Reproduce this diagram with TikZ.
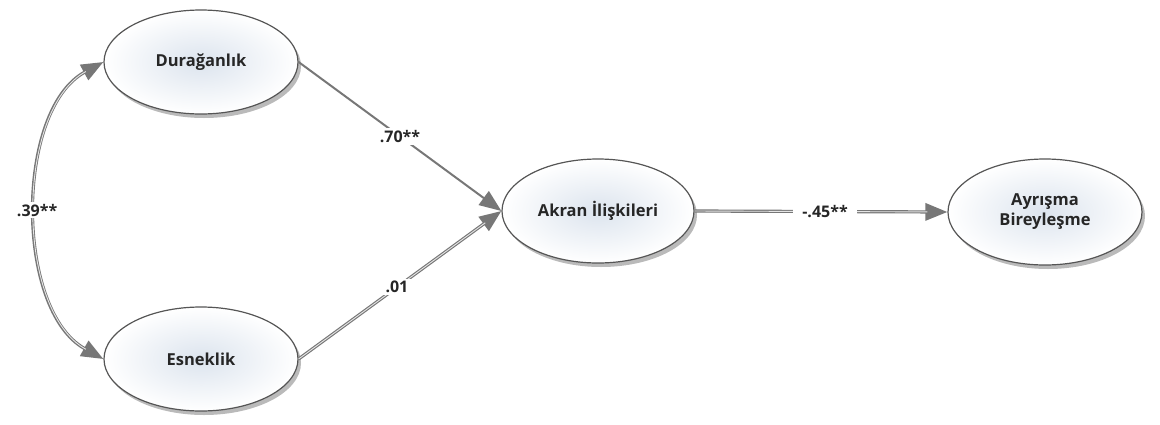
\documentclass[tikz,border=0pt]{standalone}
\usepackage{fontspec}
\setmainfont{Open Sans}
\usetikzlibrary{arrows.meta,shadows,shapes.geometric}
\definecolor{edgegray}{HTML}{777777}
\definecolor{ringgray}{HTML}{555555}
\definecolor{innerblue}{HTML}{DCE4EE}
\begin{document}
\begin{tikzpicture}[x=1pt,y=-1pt,
  var/.style={ellipse, draw=ringgray, line width=1.2pt, minimum width=194pt, minimum height=104pt,
    inner color=innerblue, outer color=white, align=center,
    font=\fontsize{16.5}{20}\selectfont\bfseries, text=black!85,
    drop shadow={shadow xshift=3pt, shadow yshift=-4pt, opacity=0.45, fill=black!60}},
  tip/.style={-{Triangle[length=22pt,width=17pt]}},
  path/.style={draw=edgegray, line width=2pt, tip},
  dpath/.style={draw=edgegray, line width=3.2pt, tip,
    postaction={draw=white!80!gray, line width=0.9pt, shorten >=20pt, -}},
  coef/.style={fill=white, inner xsep=6pt, inner ysep=2pt, font=\fontsize{16}{18}\selectfont\bfseries, text=black!85}]
\useasboundingbox (0,0) rectangle (1160,424);
\node[var] (D) at (201,62) {Durağanlık};
\node[var] (E) at (201,359) {Esneklik};
\node[var, minimum width=192pt] (A) at (598,211) {Akran İlişkileri};
\node[var, minimum height=106pt] (B) at (1045,212) {Ayrışma\\Bireyleşme};
\draw[path] (D.east) -- (A.west) node[coef, pos=0.5] (c1) {.70**};
\draw[dpath] (E.east) -- (A.west) node[coef, pos=0.485] (c2) {.01};
\draw[dpath] (A.east) -- (B.west) node[coef, pos=0.516, inner xsep=9pt] (c3) {-.45**};
\draw[draw=edgegray, line width=3.2pt,
  {Triangle[length=22pt,width=17pt]}-{Triangle[length=22pt,width=17pt]},
  postaction={draw=white!80!gray, line width=0.9pt, shorten >=20pt, shorten <=20pt, -}]
  (D.west) .. controls (15,110) and (15,310) .. (E.west) node[coef, pos=0.5] (c4) {.39**};
\end{tikzpicture}
\end{document}
